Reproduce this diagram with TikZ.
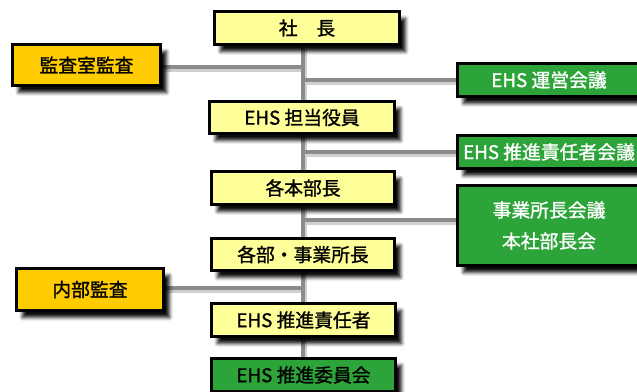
\documentclass[tikz,border=0pt]{standalone}
\usepackage{fontspec}
\setmainfont{Noto Sans CJK JP}[FakeBold=1.2]
\usetikzlibrary{shadows.blur,backgrounds}
\definecolor{ycol}{HTML}{FFFF99}
\definecolor{ocol}{HTML}{FFCC00}
\definecolor{gcol}{HTML}{2DA43A}
\definecolor{lcol}{HTML}{8C8C8C}
\definecolor{scol}{HTML}{D0D0D0}
\tikzset{
  box/.style={draw=black, line width=3pt, inner sep=0pt, font=\fontsize{18.8}{31}\selectfont,
    blur shadow={shadow xshift=6pt, shadow yshift=-7pt, shadow blur radius=3.5pt, shadow blur steps=6, shadow opacity=95}},
  ybox/.style={box, fill=ycol, text=black},
  obox/.style={box, fill=ocol, text=black},
  gbox/.style={box, fill=gcol, text=white},
  link/.style={draw=lcol, line width=4pt},
  linkshadow/.style={draw=scol, line width=4pt},
}
\begin{document}
\begin{tikzpicture}[x=1pt,y=-1pt]
\useasboundingbox (0,0) rectangle (637,391);
% left column
\node[ybox, minimum width=185pt, minimum height=33pt] (shacho) at (307,28) {社　長};
\node[obox, minimum width=148pt, minimum height=41pt] (kansa) at (86.5,65) {監査室監査};
\node[ybox, minimum width=185pt, minimum height=32pt] (tanto) at (302,117.5) {EHS 担当役員};
\node[ybox, minimum width=183pt, minimum height=33pt] (honbu) at (303,188) {各本部長};
\node[ybox, minimum width=183pt, minimum height=32pt] (bucho) at (303,254.5) {各部・事業所長};
\node[obox, minimum width=147pt, minimum height=42pt] (naibu) at (90,289.5) {内部監査};
\node[ybox, minimum width=184pt, minimum height=33pt] (sekinin) at (303.5,320) {EHS 推進責任者};
\node[box, fill=gcol, text=black, minimum width=184pt, minimum height=33pt] (iinkai) at (303.5,375) {EHS 推進委員会};
% right column
\node[gbox, minimum width=183pt, minimum height=33pt] (unei) at (549,80) {EHS 運営会議};
\node[gbox, minimum width=183pt, minimum height=33pt] (skaigi) at (549,152) {EHS 推進責任者会議};
\node[gbox, minimum width=183pt, minimum height=80pt, align=center] (jkaigi) at (549,225.5) {事業所長会議\\本社部長会};
% junction coordinates on the trunk
\coordinate (jk) at (303,67);
\coordinate (ju) at (303,80);
\coordinate (js) at (303,152);
\coordinate (jj) at (303,220);
\coordinate (jn) at (303,288);
\coordinate (jjE) at (jkaigi.west |- jj);
\begin{scope}[on background layer]
  \begin{scope}[shift={(2,3)}]
    \draw[linkshadow] (303,46) -- (303,357);
    \draw[linkshadow] (162,67) -- (303,67);
    \draw[linkshadow] (303,80) -- (456,80);
    \draw[linkshadow] (303,152) -- (456,152);
    \draw[linkshadow] (303,220) -- (456,220);
    \draw[linkshadow] (165,288) -- (303,288);
  \end{scope}
  \draw[link] (shacho.south -| jk) -- (iinkai.north -| jk);
  \draw[link] (kansa.east |- jk) -- (jk);
  \draw[link] (ju) -- (unei.west);
  \draw[link] (js) -- (skaigi.west);
  \draw[link] (jj) -- (jjE);
  \draw[link] (naibu.east |- jn) -- (jn);
\end{scope}
\end{tikzpicture}
\end{document}
